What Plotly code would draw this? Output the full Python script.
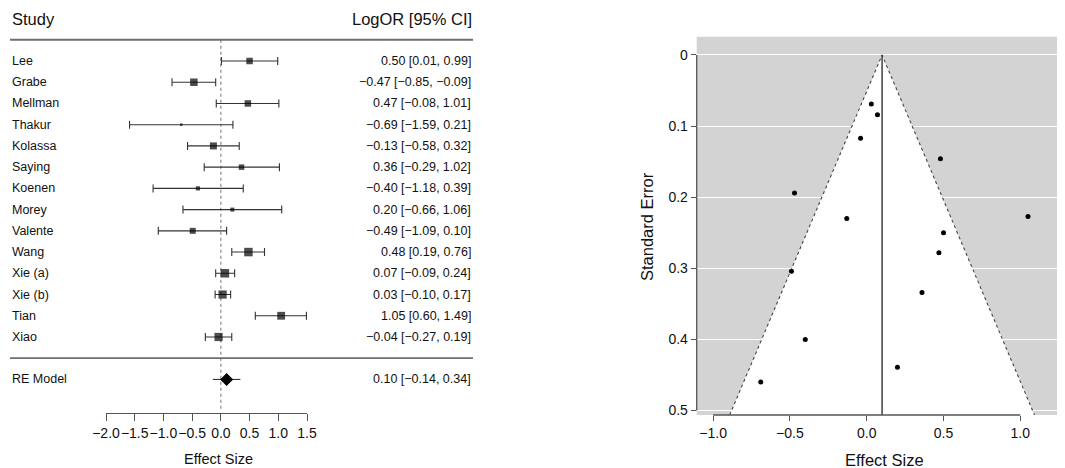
import plotly.graph_objects as go

# ---------------- data ----------------
studies = ["Lee", "Grabe", "Mellman", "Thakur", "Kolassa", "Saying", "Koenen",
           "Morey", "Valente", "Wang", "Xie (a)", "Xie (b)", "Tian", "Xiao"]
est = [0.50, -0.47, 0.47, -0.69, -0.13, 0.36, -0.40, 0.20, -0.49, 0.48, 0.07, 0.03, 1.05, -0.04]
lower = [0.01, -0.85, -0.08, -1.59, -0.58, -0.29, -1.18, -0.66, -1.09, 0.19, -0.09, -0.10, 0.60, -0.27]
upper = [0.99, -0.09, 1.01, 0.21, 0.32, 1.02, 0.39, 1.06, 0.10, 0.76, 0.24, 0.17, 1.49, 0.19]
box_size = [6.5, 7.5, 6.5, 2.5, 7, 5.5, 4.2, 4, 6, 8.5, 8.5, 8.2, 7.8, 8.2]
se = [0.250, 0.194, 0.278, 0.460, 0.230, 0.334, 0.400, 0.439, 0.304, 0.146, 0.084, 0.069, 0.227, 0.117]

re_label = "RE Model"
re_est, re_lower, re_upper = 0.10, -0.14, 0.34

forest_ticks = [-2.0, -1.5, -1.0, -0.5, 0.0, 0.5, 1.0, 1.5]
funnel_xticks = [-1.0, -0.5, 0.0, 0.5, 1.0]
funnel_yticks = [0, 0.1, 0.2, 0.3, 0.4, 0.5]
funnel_ytext = ["0", "0.1", "0.2", "0.3", "0.4", "0.5"]

# ---------------- geometry ----------------
# page body has an 8px margin, so the figure is placed at (8, 8)
OFF = 8
W, H = 1065 - OFF, 468 - OFF
FONT = "Liberation Sans, Arial, Helvetica, sans-serif"
TXT = "#111111"


def px(x):
    return (x - OFF) / W


def py(y):
    return 1 - (y - OFF) / H


k = len(studies)
rows = [k - i for i in range(k)]  # 14..1
re_row = -1
row_px = 21.23
row_y0 = 61  # pixel of first study row


def fmt(v):
    return f"{v:.2f}".replace("-", "\u2212")


fig = go.Figure()

# ---- Forest plot ----
# confidence intervals (drawn first, so boxes sit on top)
fig.add_trace(go.Scatter(
    x=est, y=rows, mode="markers", xaxis="x", yaxis="y",
    marker=dict(size=1, color="rgba(0,0,0,0)"),
    error_x=dict(type="data", symmetric=False,
                 array=[u - e for u, e in zip(upper, est)],
                 arrayminus=[e - l for e, l in zip(est, lower)],
                 color="#333333", thickness=1.1, width=4),
    showlegend=False, hoverinfo="skip", cliponaxis=False))
# weight boxes
fig.add_trace(go.Scatter(
    x=est, y=rows, mode="markers", xaxis="x", yaxis="y",
    marker=dict(symbol="square", size=box_size, color="black", line=dict(width=0)),
    showlegend=False, hoverinfo="skip", cliponaxis=False))

fig.add_trace(go.Scatter(
    x=[re_lower, re_upper], y=[re_row, re_row], mode="lines", xaxis="x", yaxis="y",
    line=dict(color="#333333", width=1.1), showlegend=False, hoverinfo="skip"))
fig.add_trace(go.Scatter(
    x=[re_est], y=[re_row], mode="markers", xaxis="x", yaxis="y",
    marker=dict(symbol="diamond", size=10, color="black"),
    showlegend=False, hoverinfo="skip"))

fig.add_shape(type="line", xref="x", yref="y", x0=0, x1=0, y0=k + 1, y1=-2.45,
              line=dict(color="#888", width=1.2, dash="dot"), layer="below")
for yy in [k + 1, 0]:
    fig.add_shape(type="line", xref="paper", yref="y", x0=px(10), x1=px(473), y0=yy, y1=yy,
                  line=dict(color="#6e6e6e", width=1.8))


def add_text(txt, xpx, yrow, anchor, size=12.5):
    fig.add_annotation(x=px(xpx), y=yrow, xref="paper", yref="y", text=txt,
                       showarrow=False, xanchor=anchor, yanchor="middle",
                       font=dict(family=FONT, size=size, color=TXT))


for name, r, e, l, u in zip(studies, rows, est, lower, upper):
    add_text(name, 10, r, "left")
    add_text(f"{fmt(e)} [{fmt(l)}, {fmt(u)}]", 473, r, "right")
add_text(re_label, 10, re_row, "left")
add_text(f"{fmt(re_est)} [{fmt(re_lower)}, {fmt(re_upper)}]", 473, re_row, "right")
add_text("Study", 10, k + 2, "left", 16.5)
add_text("LogOR [95% CI]", 474, k + 2, "right", 16.5)

fig.add_annotation(x=px(218), y=py(459), xref="paper", yref="paper", text="Effect Size",
                   showarrow=False, xanchor="center", yanchor="middle",
                   font=dict(family=FONT, size=14.5, color=TXT))

# ---- Funnel plot ----
ybot, ytop = 0.5063, -0.0257
xl, xr = -1.107, 1.291
fig.add_shape(type="rect", xref="x2 domain", yref="y2 domain", x0=0, x1=1, y0=0, y1=1,
              fillcolor="#d3d3d3", line=dict(width=0), layer="below")
fig.add_trace(go.Scatter(
    x=[re_est - 1.96 * ybot, re_est, re_est + 1.96 * ybot], y=[ybot, 0, ybot],
    mode="lines", fill="toself", fillcolor="white", xaxis="x2", yaxis="y2",
    line=dict(color="#444", width=1.1, dash="dot"), showlegend=False, hoverinfo="skip"))
fig.add_trace(go.Scatter(
    x=[re_est, re_est], y=[0, ybot], mode="lines", xaxis="x2", yaxis="y2",
    line=dict(color="#222", width=1.3), showlegend=False, hoverinfo="skip"))
fig.add_trace(go.Scatter(
    x=est, y=se, mode="markers", xaxis="x2", yaxis="y2",
    marker=dict(size=5, color="black"), showlegend=False, hoverinfo="skip"))

fig.add_shape(type="line", xref="x2", yref="y2 domain", x0=-1.0, x1=1.0, y0=0, y1=0,
              line=dict(color="#555", width=1.3))
fig.add_shape(type="line", xref="x2 domain", yref="y2", x0=0, x1=0, y0=0, y1=0.5,
              line=dict(color="#555", width=1.3))

fig.add_annotation(x=px(884), y=py(460), xref="paper", yref="paper", text="Effect Size",
                   showarrow=False, xanchor="center", yanchor="middle",
                   font=dict(family=FONT, size=16.5, color=TXT))
fig.add_annotation(x=px(647), y=py(227), xref="paper", yref="paper", text="Standard Error",
                   showarrow=False, xanchor="center", yanchor="middle", textangle=-90,
                   font=dict(family=FONT, size=16.5, color=TXT))

# ---------------- layout ----------------
y_bottom_row = k - (413 - row_y0) / row_px
y_top_row = k + (row_y0 - OFF) / row_px

fig.update_layout(
    width=W, height=H, margin=dict(l=0, r=0, t=0, b=0, pad=0), autosize=False,
    paper_bgcolor="white", plot_bgcolor="white",
    font=dict(family=FONT, color=TXT),
    xaxis=dict(domain=[px(106), px(307)], range=[-2.0, 1.5], anchor="y", automargin=False,
               showgrid=False, zeroline=False, showline=True, linecolor="#555", linewidth=1.3,
               ticks="outside", ticklen=7, tickcolor="#555", tickwidth=1.3,
               tickvals=forest_ticks, tickformat=".1f", tickangle=0,
               tickfont=dict(family=FONT, size=14, color=TXT)),
    yaxis=dict(domain=[py(413), 1], range=[y_bottom_row, y_top_row], anchor="x",
               automargin=False, visible=False, showgrid=False, zeroline=False),
    xaxis2=dict(domain=[px(696.7), 1.0], range=[xl, xr], anchor="y2", automargin=False,
                showgrid=False, zeroline=False, showline=False,
                ticks="outside", ticklen=5, tickcolor="#555", tickwidth=1.3,
                tickvals=funnel_xticks, tickformat=".1f", tickangle=0,
                tickfont=dict(family=FONT, size=14, color=TXT)),
    yaxis2=dict(domain=[py(415), py(36.7)], range=[ybot, ytop], anchor="x2", automargin=False,
                showgrid=True, gridcolor="white", gridwidth=1.3, zeroline=False, showline=False,
                ticks="outside", ticklen=5, tickcolor="#555", tickwidth=1.3,
                tickvals=funnel_yticks, ticktext=funnel_ytext,
                tickfont=dict(family=FONT, size=14, color=TXT)),
)

fig.write_html("out.html")
